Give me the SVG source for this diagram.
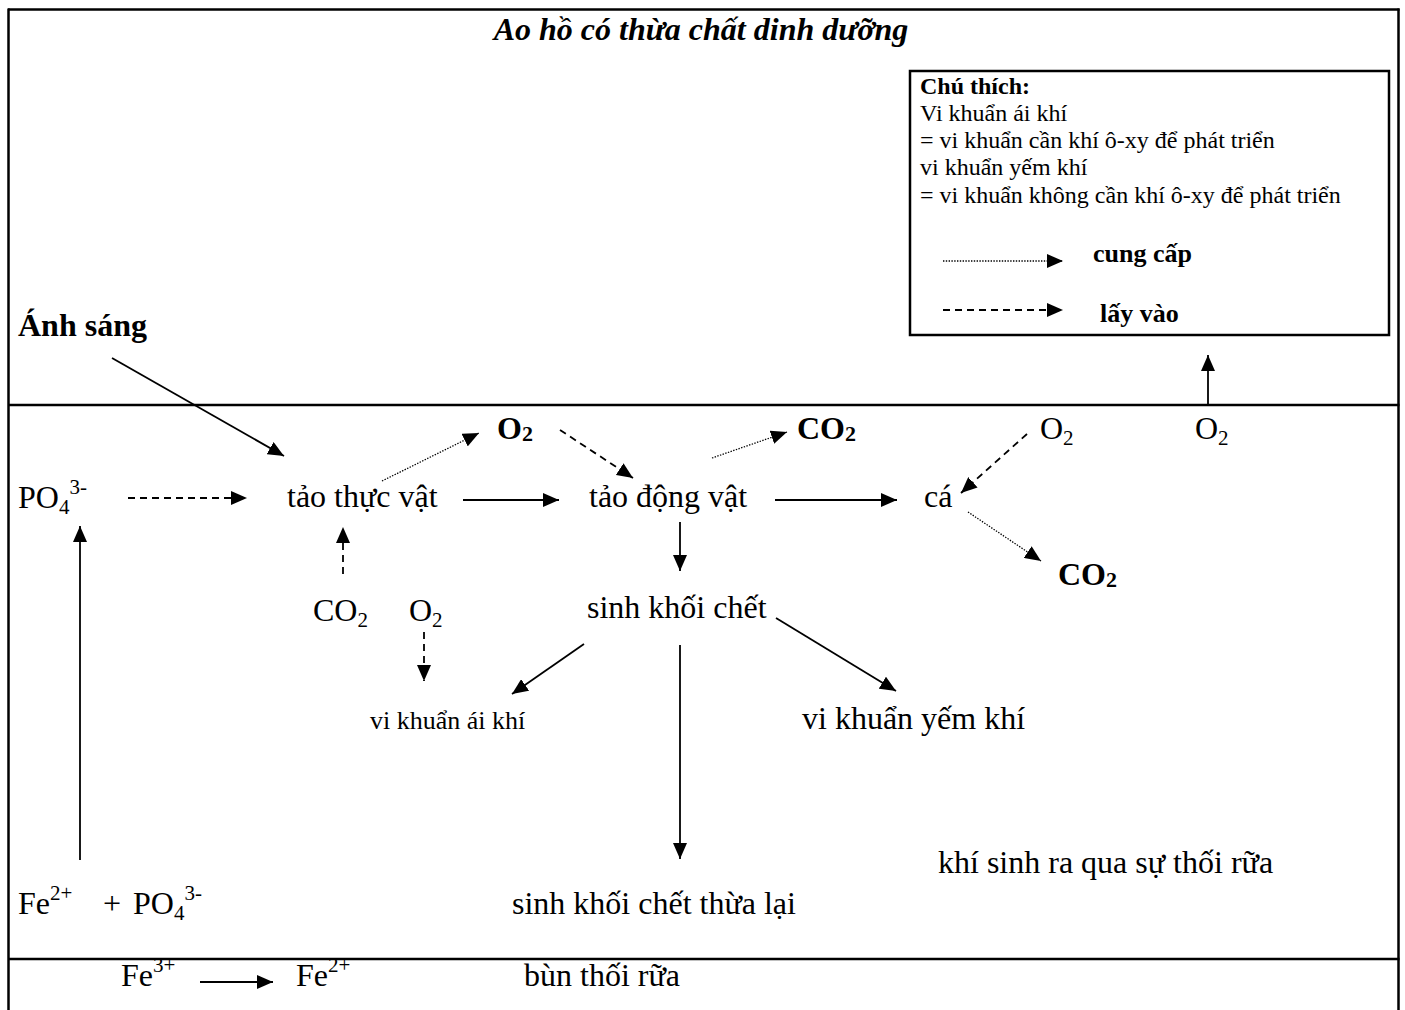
<svg xmlns="http://www.w3.org/2000/svg" width="1405" height="1010" viewBox="0 0 1405 1010">
<style>
text{font-family:"Liberation Serif","Times New Roman",serif;fill:#000}
.m{font-size:32px}
.sm{font-size:26px}
.lg{font-size:24px}
.b{font-weight:bold}
.frame{stroke:#000;stroke-width:2.5;fill:none}
.c{stroke:#000;stroke-width:1.8;fill:none}
.dash{stroke-dasharray:7 5}
.dot{stroke-dasharray:1.4 1.4;stroke-width:1.3}
</style>
<defs>
<marker id="ah" markerUnits="userSpaceOnUse" markerWidth="17" markerHeight="14" refX="16" refY="7" orient="auto">
<path d="M0,0 L16,7 L0,14 z" fill="#000"/>
</marker>
</defs>
<g id="frame">
<line class="frame" x1="8" y1="9.5" x2="1399.5" y2="9.5"/>
<line class="frame" x1="8.5" y1="8.5" x2="8.5" y2="1010"/>
<line class="frame" x1="1398.5" y1="8.5" x2="1398.5" y2="1010"/>
<line class="frame" x1="8" y1="405" x2="1399.5" y2="405"/>
<line class="frame" x1="8" y1="959" x2="1399.5" y2="959"/>
</g>
<g id="title"><text class="m b" x="701" y="40" text-anchor="middle" font-style="italic">Ao hồ có thừa chất dinh dưỡng</text></g>
<g id="legend">
<rect class="frame" x="910" y="71" width="479" height="264"/>
<text class="lg b" x="920" y="94">Chú thích:</text>
<text class="lg" x="920" y="121">Vi khuẩn ái khí</text>
<text class="lg" x="920" y="148">= vi khuẩn cần khí ô-xy để phát triển</text>
<text class="lg" x="920" y="175">vi khuẩn yếm khí</text>
<text class="lg" x="920" y="203">= vi khuẩn không cần khí ô-xy để phát triển</text>
<line class="c dot" x1="943" y1="261" x2="1063" y2="261" marker-end="url(#ah)"/>
<text class="sm b" x="1093" y="262">cung cấp</text>
<line class="c dash" x1="943" y1="310" x2="1063" y2="310" marker-end="url(#ah)"/>
<text class="sm b" x="1100" y="322">lấy vào</text>
</g>
<g id="anh-sang"><text class="m b" x="18" y="336">Ánh sáng</text></g>
<g id="po4"><text class="m" x="18" y="508">PO<tspan font-size="21" dy="6">4</tspan><tspan font-size="21" dy="-20">3-</tspan></text></g>
<g id="tao-thuc-vat"><text class="m" x="287" y="507">tảo thực vật</text></g>
<g id="tao-dong-vat"><text class="m" x="589" y="507">tảo động vật</text></g>
<g id="ca"><text class="m" x="924" y="507">cá</text></g>
<g id="o2-top"><text class="m b" x="497" y="439">O<tspan font-size="22" dy="2">2</tspan></text></g>
<g id="co2-top"><text class="m b" x="797" y="439">CO<tspan font-size="22" dy="2">2</tspan></text></g>
<g id="o2-ca"><text class="m" x="1040" y="439">O<tspan font-size="21" dy="6">2</tspan></text></g>
<g id="o2-right"><text class="m" x="1195" y="439">O<tspan font-size="21" dy="6">2</tspan></text></g>
<g id="co2-ca"><text class="m b" x="1058" y="585">CO<tspan font-size="22" dy="2">2</tspan></text></g>
<g id="co2-low"><text class="m" x="313" y="621">CO<tspan font-size="21" dy="6">2</tspan></text></g>
<g id="o2-low"><text class="m" x="409" y="621">O<tspan font-size="21" dy="6">2</tspan></text></g>
<g id="sinh-khoi-chet"><text class="m" x="587" y="618">sinh khối chết</text></g>
<g id="vk-ai-khi"><text class="sm" x="370" y="729">vi khuẩn ái khí</text></g>
<g id="vk-yem-khi"><text class="m" x="802" y="729">vi khuẩn yếm khí</text></g>
<g id="khi-sinh-ra"><text class="m" x="938" y="873">khí sinh ra qua sự thối rữa</text></g>
<g id="sinh-khoi-thua"><text class="m" x="512" y="914">sinh khối chết thừa lại</text></g>
<g id="fe-po4"><text class="m" x="18" y="914">Fe<tspan font-size="21" dy="-14">2+</tspan></text><text class="m" x="103" y="914">+</text><text class="m" x="133" y="914">PO<tspan font-size="21" dy="6">4</tspan><tspan font-size="21" dy="-20">3-</tspan></text></g>
<g id="fe3"><text class="m" x="121" y="986">Fe<tspan font-size="21" dy="-14">3+</tspan></text></g>
<g id="fe2"><text class="m" x="296" y="986">Fe<tspan font-size="21" dy="-14">2+</tspan></text></g>
<g id="bun"><text class="m" x="524" y="986">bùn thối rữa</text></g>
<g id="connectors">
<line class="c" x1="112" y1="358" x2="284" y2="456" marker-end="url(#ah)"/>
<line class="c dot" x1="382" y1="481" x2="479" y2="433" marker-end="url(#ah)"/>
<line class="c dash" x1="560" y1="430" x2="633" y2="478" marker-end="url(#ah)"/>
<line class="c dot" x1="712" y1="458" x2="787" y2="432" marker-end="url(#ah)"/>
<line class="c dash" x1="1027" y1="434" x2="961" y2="493" marker-end="url(#ah)"/>
<line class="c" x1="1208" y1="405" x2="1208" y2="355" marker-end="url(#ah)"/>
<line class="c dot" x1="968" y1="512" x2="1041" y2="561" marker-end="url(#ah)"/>
<line class="c dash" x1="128" y1="498" x2="247" y2="498" marker-end="url(#ah)"/>
<line class="c" x1="463" y1="500" x2="559" y2="500" marker-end="url(#ah)"/>
<line class="c" x1="775" y1="500" x2="897" y2="500" marker-end="url(#ah)"/>
<line class="c dash" x1="343" y1="574" x2="343" y2="527" marker-end="url(#ah)"/>
<line class="c dash" x1="424" y1="632" x2="424" y2="681" marker-end="url(#ah)"/>
<line class="c" x1="680" y1="522" x2="680" y2="571" marker-end="url(#ah)"/>
<line class="c" x1="584" y1="644" x2="512" y2="694" marker-end="url(#ah)"/>
<line class="c" x1="776" y1="618" x2="896" y2="691" marker-end="url(#ah)"/>
<line class="c" x1="680" y1="645" x2="680" y2="859" marker-end="url(#ah)"/>
<line class="c" x1="80" y1="860" x2="80" y2="526" marker-end="url(#ah)"/>
<line class="c" x1="200" y1="982" x2="273" y2="982" marker-end="url(#ah)"/>
</g>
</svg>
